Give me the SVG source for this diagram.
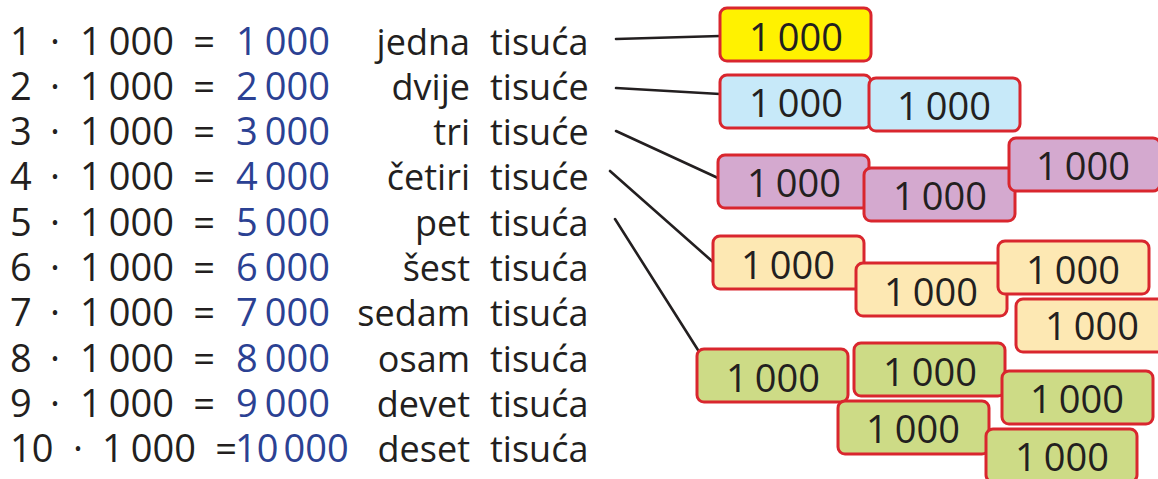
<svg xmlns="http://www.w3.org/2000/svg" width="1158" height="479" viewBox="0 0 1158 479">
<style>
.t{font-family:"Open Sans","Noto Sans","Liberation Sans",sans-serif;fill:#231f20}
.d{font-size:38px}
.w{font-size:36px}
.b{fill:#2b4193}
.box{stroke:#d9262e;stroke-width:3}
.bt{font-family:"Open Sans","Noto Sans","Liberation Sans",sans-serif;font-size:38px;fill:#231f20;text-anchor:middle}
.c{stroke:#231f20;stroke-width:2.6;fill:none;stroke-linecap:round}
.yl{fill:#fff200}.bl{fill:#c7e9f9}.pu{fill:#d4a9cf}.or{fill:#fde8b3}.gr{fill:#cddb86}
</style>
<defs>
<rect id="r" width="151" height="53" rx="7"/>
</defs>

<g id="rows">
<g id="row1"><text class="t d" y="54.5"><tspan x="10">1</tspan><tspan x="55" text-anchor="middle">·</tspan><tspan x="80">1</tspan><tspan dx="7">000</tspan><tspan x="204" text-anchor="middle">=</tspan></text><text class="t d b" y="54.5" x="236">1<tspan dx="7">000</tspan></text><text class="t w" y="54.5" x="470" text-anchor="end">jedna</text><text class="t w" y="54.5" x="490">tisuća</text></g>
<g id="row2"><text class="t d" y="99.8"><tspan x="10">2</tspan><tspan x="55" text-anchor="middle">·</tspan><tspan x="80">1</tspan><tspan dx="7">000</tspan><tspan x="204" text-anchor="middle">=</tspan></text><text class="t d b" y="99.8" x="236">2<tspan dx="7">000</tspan></text><text class="t w" y="99.8" x="470" text-anchor="end">dvije</text><text class="t w" y="99.8" x="490">tisuće</text></g>
<g id="row3"><text class="t d" y="145.1"><tspan x="10">3</tspan><tspan x="55" text-anchor="middle">·</tspan><tspan x="80">1</tspan><tspan dx="7">000</tspan><tspan x="204" text-anchor="middle">=</tspan></text><text class="t d b" y="145.1" x="236">3<tspan dx="7">000</tspan></text><text class="t w" y="145.1" x="470" text-anchor="end">tri</text><text class="t w" y="145.1" x="490">tisuće</text></g>
<g id="row4"><text class="t d" y="190.4"><tspan x="10">4</tspan><tspan x="55" text-anchor="middle">·</tspan><tspan x="80">1</tspan><tspan dx="7">000</tspan><tspan x="204" text-anchor="middle">=</tspan></text><text class="t d b" y="190.4" x="236">4<tspan dx="7">000</tspan></text><text class="t w" y="190.4" x="470" text-anchor="end">četiri</text><text class="t w" y="190.4" x="490">tisuće</text></g>
<g id="row5"><text class="t d" y="235.7"><tspan x="10">5</tspan><tspan x="55" text-anchor="middle">·</tspan><tspan x="80">1</tspan><tspan dx="7">000</tspan><tspan x="204" text-anchor="middle">=</tspan></text><text class="t d b" y="235.7" x="236">5<tspan dx="7">000</tspan></text><text class="t w" y="235.7" x="470" text-anchor="end">pet</text><text class="t w" y="235.7" x="490">tisuća</text></g>
<g id="row6"><text class="t d" y="281"><tspan x="10">6</tspan><tspan x="55" text-anchor="middle">·</tspan><tspan x="80">1</tspan><tspan dx="7">000</tspan><tspan x="204" text-anchor="middle">=</tspan></text><text class="t d b" y="281" x="236">6<tspan dx="7">000</tspan></text><text class="t w" y="281" x="470" text-anchor="end">šest</text><text class="t w" y="281" x="490">tisuća</text></g>
<g id="row7"><text class="t d" y="326.3"><tspan x="10">7</tspan><tspan x="55" text-anchor="middle">·</tspan><tspan x="80">1</tspan><tspan dx="7">000</tspan><tspan x="204" text-anchor="middle">=</tspan></text><text class="t d b" y="326.3" x="236">7<tspan dx="7">000</tspan></text><text class="t w" y="326.3" x="470" text-anchor="end">sedam</text><text class="t w" y="326.3" x="490">tisuća</text></g>
<g id="row8"><text class="t d" y="371.6"><tspan x="10">8</tspan><tspan x="55" text-anchor="middle">·</tspan><tspan x="80">1</tspan><tspan dx="7">000</tspan><tspan x="204" text-anchor="middle">=</tspan></text><text class="t d b" y="371.6" x="236">8<tspan dx="7">000</tspan></text><text class="t w" y="371.6" x="470" text-anchor="end">osam</text><text class="t w" y="371.6" x="490">tisuća</text></g>
<g id="row9"><text class="t d" y="416.9"><tspan x="10">9</tspan><tspan x="55" text-anchor="middle">·</tspan><tspan x="80">1</tspan><tspan dx="7">000</tspan><tspan x="204" text-anchor="middle">=</tspan></text><text class="t d b" y="416.9" x="236">9<tspan dx="7">000</tspan></text><text class="t w" y="416.9" x="470" text-anchor="end">devet</text><text class="t w" y="416.9" x="490">tisuća</text></g>
<g id="row10"><text class="t d" y="462.2"><tspan x="10">10</tspan><tspan x="78" text-anchor="middle">·</tspan><tspan x="102">1</tspan><tspan dx="7">000</tspan><tspan x="226" text-anchor="middle">=</tspan></text><text class="t d b" y="462.2" x="235">10<tspan dx="5">000</tspan></text><text class="t w" y="462.2" x="470" text-anchor="end">deset</text><text class="t w" y="462.2" x="490">tisuća</text></g>
</g>

<g id="connectors">
<line class="c" x1="616" y1="39" x2="720" y2="36"/>
<line class="c" x1="616" y1="88" x2="720" y2="94"/>
<line class="c" x1="616" y1="131" x2="718" y2="178"/>
<line class="c" x1="610" y1="171" x2="713" y2="262"/>
<line class="c" x1="615" y1="219" x2="698" y2="350"/>
</g>

<g id="one">
<g id="n1a"><use href="#r" class="box yl" x="720" y="8"/><text class="bt" x="796" y="51">1<tspan dx="7">000</tspan></text></g>
</g>
<g id="two">
<g id="n2a"><use href="#r" class="box bl" x="720" y="75"/><text class="bt" x="796" y="117">1<tspan dx="7">000</tspan></text></g>
<g id="n2b"><use href="#r" class="box bl" x="869" y="78"/><text class="bt" x="944" y="120">1<tspan dx="7">000</tspan></text></g>
</g>
<g id="three">
<g id="n3a"><use href="#r" class="box pu" x="718" y="155"/><text class="bt" x="794" y="197">1<tspan dx="7">000</tspan></text></g>
<g id="n3b"><use href="#r" class="box pu" x="864" y="168"/><text class="bt" x="940" y="210">1<tspan dx="7">000</tspan></text></g>
<g id="n3c"><use href="#r" class="box pu" x="1009" y="138"/><text class="bt" x="1083" y="180">1<tspan dx="7">000</tspan></text></g>
</g>
<g id="four">
<g id="n4a"><use href="#r" class="box or" x="713" y="236"/><text class="bt" x="788" y="279">1<tspan dx="7">000</tspan></text></g>
<g id="n4b"><use href="#r" class="box or" x="856" y="263"/><text class="bt" x="931" y="306">1<tspan dx="7">000</tspan></text></g>
<g id="n4c"><use href="#r" class="box or" x="998" y="241"/><text class="bt" x="1073" y="284">1<tspan dx="7">000</tspan></text></g>
<g id="n4d"><use href="#r" class="box or" x="1016" y="299"/><text class="bt" x="1092" y="340">1<tspan dx="7">000</tspan></text></g>
</g>
<g id="five">
<g id="n5a"><use href="#r" class="box gr" x="697" y="349"/><text class="bt" x="773" y="392">1<tspan dx="7">000</tspan></text></g>
<g id="n5b"><use href="#r" class="box gr" x="854" y="343"/><text class="bt" x="930" y="386">1<tspan dx="7">000</tspan></text></g>
<g id="n5c"><use href="#r" class="box gr" x="1002" y="371"/><text class="bt" x="1077" y="413">1<tspan dx="7">000</tspan></text></g>
<g id="n5d"><use href="#r" class="box gr" x="838" y="401"/><text class="bt" x="913" y="443">1<tspan dx="7">000</tspan></text></g>
<g id="n5e"><use href="#r" class="box gr" x="986" y="429"/><text class="bt" x="1062" y="471">1<tspan dx="7">000</tspan></text></g>
</g>
</svg>
